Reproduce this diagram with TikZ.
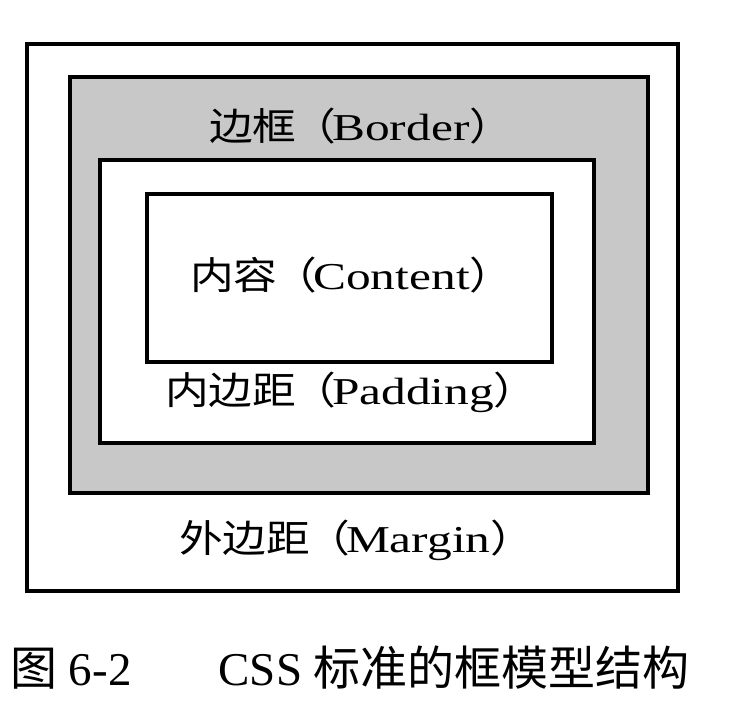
\documentclass[tikz,border=0pt]{standalone}
\usepackage{fontspec}
\setmainfont{Liberation Serif}
\newfontfamily\cjk{Noto Sans CJK SC}
\newfontfamily\lblfont{Liberation Serif}[FakeStretch=1.3]
\newfontfamily\lblcjk{Noto Sans CJK SC}[FakeStretch=1.15,Scale=1.0]
\definecolor{bordergray}{RGB}{200,200,200}
\tikzset{
  boxline/.style={draw=black, line width=4pt},
  lbl/.style={font=\fontsize{38}{42}\selectfont\lblfont, inner sep=0pt, anchor=west},
  captxt/.style={font=\fontsize{47}{52}\selectfont, inner sep=0pt, anchor=west}
}
\begin{document}
\begin{tikzpicture}[x=1pt,y=-1pt]
\useasboundingbox[fill=white] (0,0) rectangle (736,712);
\draw[boxline, line width=3.5pt] (27,44) rectangle (678,591);
\draw[boxline, fill=bordergray, line width=4.5pt] (70,77) rectangle (648,493);
\draw[boxline, fill=white] (100,160) rectangle (594,443);
\draw[boxline, fill=white] (147,194) rectangle (552,362);
\node[lbl] (border) at (209,126) {{\lblcjk 边框\kern-4pt（\kern-4pt}Border{\lblcjk ）}};
\node[lbl] (content) at (190,275) {{\lblcjk 内容\kern-4pt（\kern-4pt}Content{\lblcjk ）}};
\node[lbl] (padding) at (165,392) {{\lblcjk 内边距\kern-4pt（\kern-4pt}Padding{\lblcjk ）}};
\node[lbl] (margin) at (179,540) {{\lblcjk 外边距\kern-4pt（\kern-4pt}Margin{\lblcjk ）}};
\node[captxt] (caption) at (10,668) {{\cjk 图} 6-2\hspace{87pt}CSS {\cjk 标准的框模型结构}};
\end{tikzpicture}
\end{document}
